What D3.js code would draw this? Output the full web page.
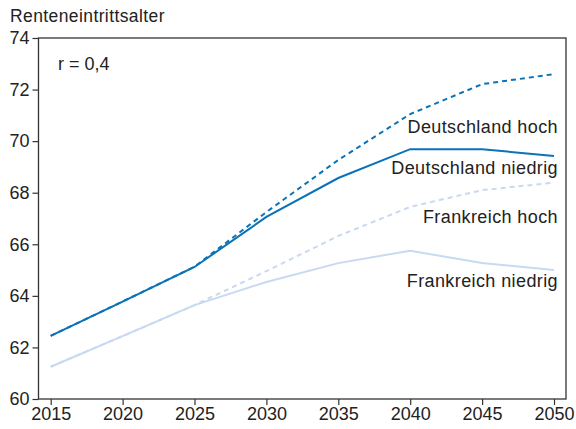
<!DOCTYPE html>
<html><head><meta charset="utf-8">
<script src="https://cdn.jsdelivr.net/npm/d3@7"></script>
<style>body{margin:0;background:#fff}svg{display:block}text{font-family:"Liberation Sans",Arial,sans-serif}</style>
</head><body><svg id="c" width="576" height="429"></svg>
<script>
const years = [2015, 2020, 2025, 2030, 2035, 2040, 2045, 2050];
const deHoch    = [62.45, 63.78, 65.13, 67.25, 69.27, 71.05, 72.21, 72.6];
const deNiedrig = [62.45, 63.78, 65.12, 67.06, 68.57, 69.69, 69.69, 69.42];
const frHoch    = [61.25, 62.44, 63.64, 64.96, 66.32, 67.45, 68.1, 68.39];
const frNiedrig = [61.25, 62.44, 63.64, 64.54, 65.27, 65.75, 65.27, 65.0];
const yTicks = [60, 62, 64, 66, 68, 70, 72, 74];
const seriesNames = ["Deutschland hoch", "Deutschland niedrig", "Frankreich hoch", "Frankreich niedrig"];

(function () {
const svg = d3.select("#c");
const x = d3.scaleLinear().domain([2015, 2050]).range([50.7, 554]);
const y = d3.scaleLinear().domain([60, 74]).range([399, 38]);
const pL = 38.5, pR = 566, pT = 38, pB = 399;

const axisColor = "#333";
svg.append("rect").attr("x", pL).attr("y", pT).attr("width", pR-pL).attr("height", pB-pT)
  .attr("fill", "none").attr("stroke", axisColor).attr("stroke-width", 1.3);

const yAxis = svg.append("g").attr("transform", `translate(${pL},0)`)
  .call(d3.axisLeft(y).tickValues(yTicks).tickSize(6).tickPadding(3).tickFormat(d3.format("d")));
const xAxis = svg.append("g").attr("transform", `translate(0,${pB})`)
  .call(d3.axisBottom(x).tickValues(years).tickSize(6).tickPadding(2).tickFormat(d3.format("d")));
[yAxis, xAxis].forEach(g => {
  g.select(".domain").remove();
  g.selectAll("line").attr("stroke", axisColor).attr("stroke-width", 1.2);
  g.selectAll("text").attr("fill", "#222").style("font-size", "18px").style("font-family", '"Liberation Sans",Arial,sans-serif');
});

const dark = "#0a72b8", light = "#c8d9f2";
const line = d3.line().x((d, i) => x(years[i])).y(d => y(d));
const series = [
  {v: frNiedrig, c: light, dash: null},
  {v: frHoch, c: light, dash: "5,4"},
  {v: deNiedrig, c: dark, dash: null},
  {v: deHoch, c: dark, dash: "5,4"}
];
series.forEach(s => {
  svg.append("path").attr("d", line(s.v)).attr("fill", "none").attr("stroke", s.c)
    .attr("stroke-width", 2).attr("stroke-dasharray", s.dash);
});

const labelY = [132.7, 174, 222.7, 286.7];
seriesNames.forEach((t, i) => {
  svg.append("text").attr("x", 558).attr("y", labelY[i]).attr("text-anchor", "end")
    .attr("fill", "#222").style("font-size", "18px").style("letter-spacing", "0.4px").text(t);
});

svg.append("text").attr("x", 58).attr("y", 70).attr("fill", "#222").style("font-size", "18px").text("r = 0,4");
svg.append("text").attr("x", 10).attr("y", 22).attr("fill", "#222").style("font-size", "17.5px").style("letter-spacing", "0.4px").text("Renteneintrittsalter");
})();
</script></body></html>
